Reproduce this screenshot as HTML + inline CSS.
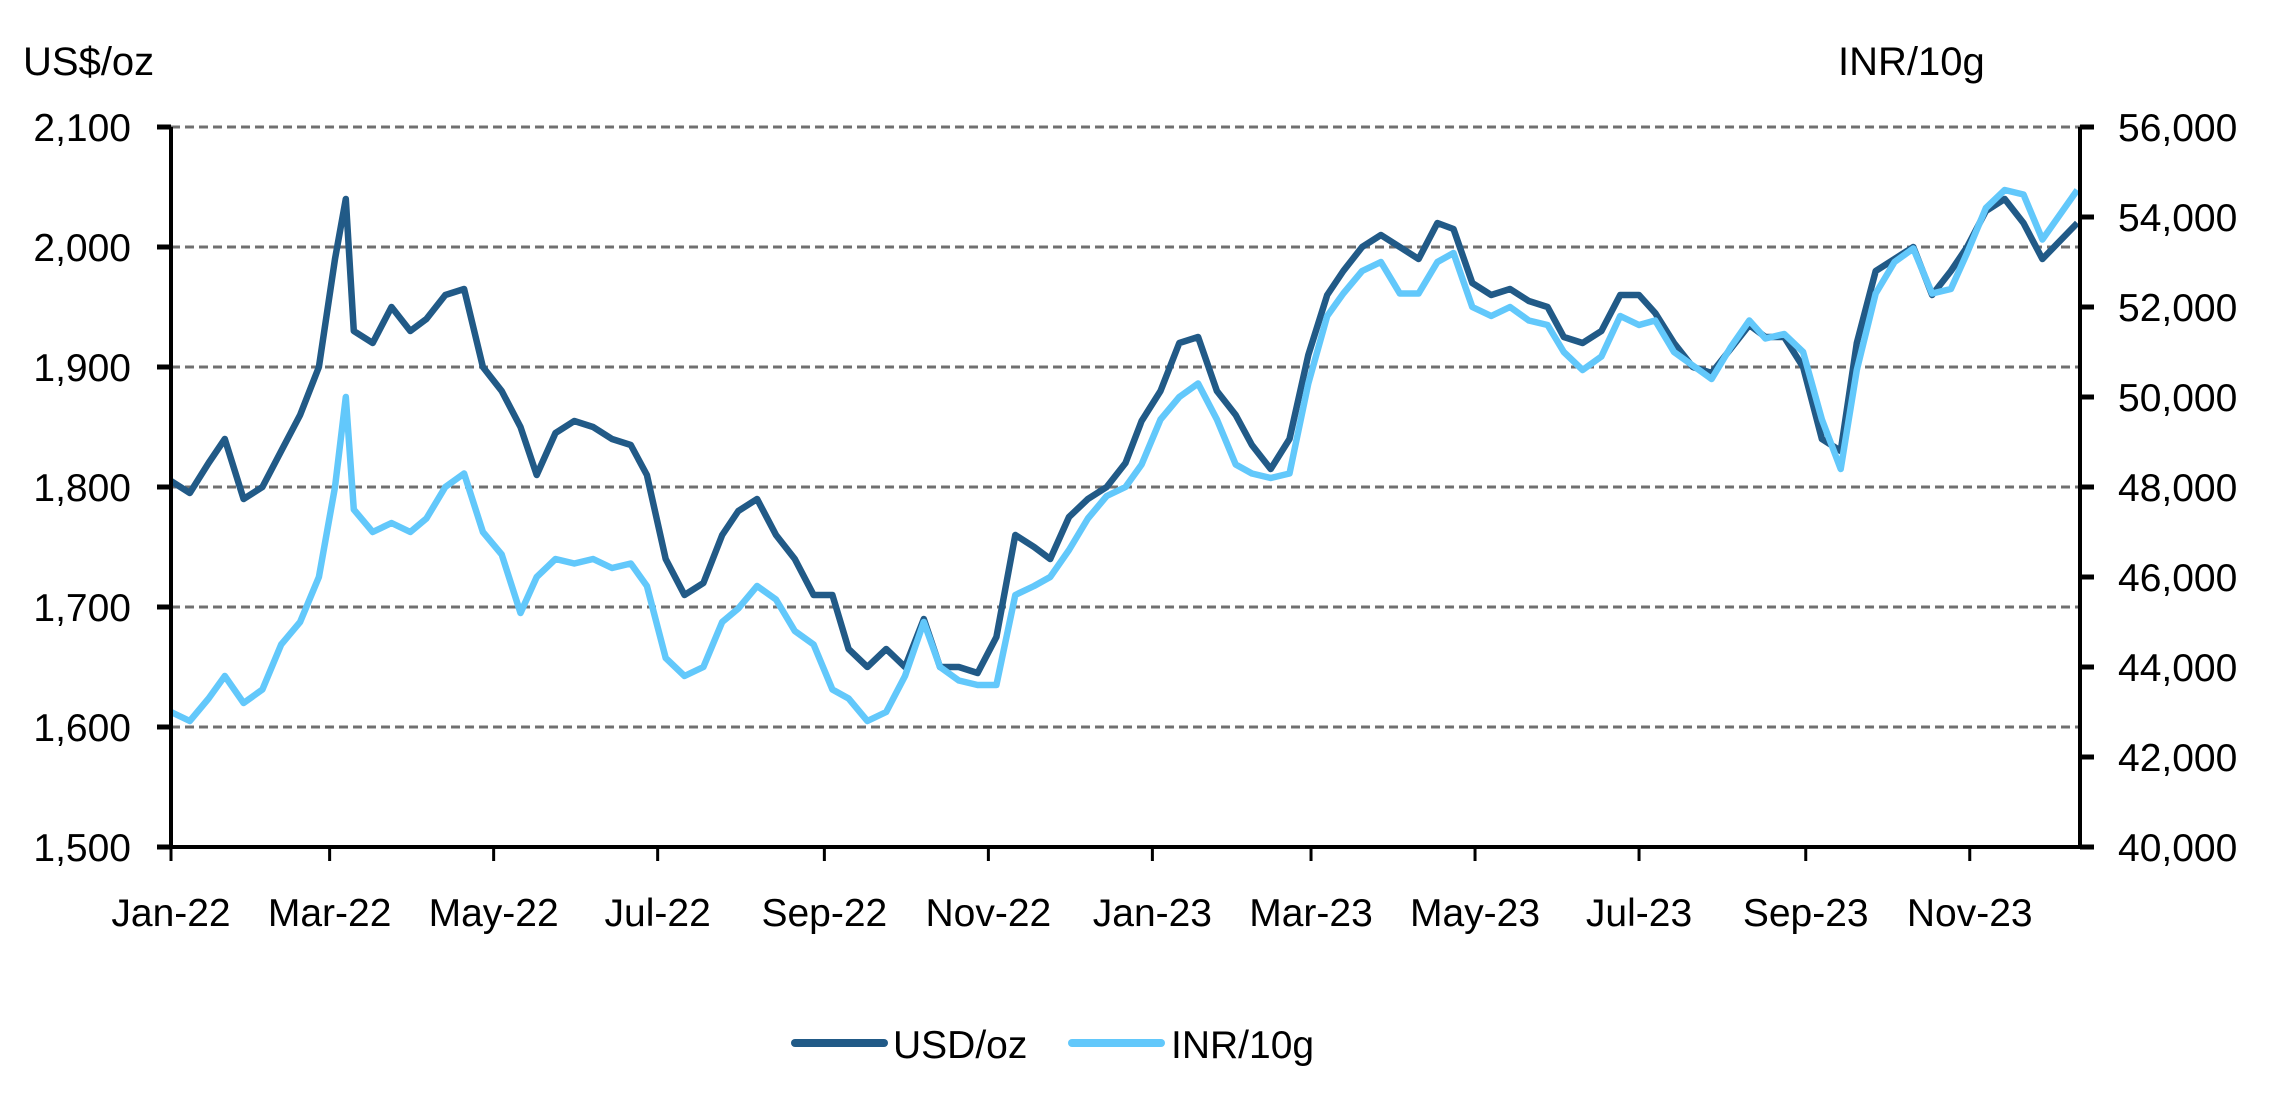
<!DOCTYPE html>
<html><head><meta charset="utf-8">
<style>
html,body{margin:0;padding:0;background:#fff;}
svg text{font-family:"Liberation Sans",sans-serif;fill:#000;}
</style></head>
<body>
<svg width="2287" height="1100" viewBox="0 0 2287 1100">
<g id="grid"></g>
<g id="series"></g>
<g id="axes"></g>
<text x="23" y="75" font-size="40">US$/oz</text>
<text x="1838" y="75" font-size="40">INR/10g</text>
<g>
<line x1="795" y1="1043" x2="884" y2="1043" stroke="#215a87" stroke-width="8" stroke-linecap="round"/>
<text x="893" y="1058" font-size="39">USD/oz</text>
<line x1="1072" y1="1043" x2="1161" y2="1043" stroke="#62c8fb" stroke-width="8" stroke-linecap="round"/>
<text x="1171" y="1058" font-size="39">INR/10g</text>
</g>
</svg>
<script>
const usdVals=[1805,1795,1820,1840,1790,1800,1830,1860,1900,1990,2040,1930,1920,1950,1930,1940,1960,1965,1900,1880,1850,1810,1845,1855,1850,1840,1835,1810,1740,1710,1720,1760,1780,1790,1760,1740,1710,1710,1665,1650,1665,1650,1690,1650,1650,1645,1675,1760,1750,1740,1775,1790,1800,1820,1855,1880,1920,1925,1880,1860,1835,1815,1840,1910,1960,1980,2000,2010,2000,1990,2020,2015,1970,1960,1965,1955,1950,1925,1920,1930,1960,1960,1945,1920,1900,1895,1915,1935,1925,1925,1900,1840,1830,1920,1980,1990,2000,1960,1980,2000,2030,2040,2020,1990,2020];
const inrVals=[43000,42800,43300,43800,43200,43500,44500,45000,46000,48000,50000,47500,47000,47200,47000,47300,48000,48300,47000,46500,45200,46000,46400,46300,46400,46200,46300,45800,44200,43800,44000,45000,45300,45800,45500,44800,44500,43500,43300,42800,43000,43800,45000,44000,43700,43600,43600,45600,45800,46000,46600,47300,47800,48000,48500,49500,50000,50300,49500,48500,48300,48200,48300,50300,51800,52300,52800,53000,52300,52300,53000,53200,52000,51800,52000,51700,51600,51000,50600,50900,51800,51600,51700,51000,50700,50400,51100,51700,51300,51400,51000,49500,48400,50600,52300,53000,53300,52300,52400,53200,54200,54600,54500,53500,54600];
const dayIdx=[0,7,14,20,27,34,41,48,55,61,65,68,75,82,89,95,102,109,116,123,130,136,143,150,157,164,171,177,184,191,198,205,211,218,225,232,239,246,252,259,266,273,280,286,293,300,307,314,321,327,334,341,348,355,361,368,375,382,389,396,402,409,416,423,430,436,443,450,457,464,471,477,484,491,498,505,512,518,525,532,539,546,552,559,566,573,580,587,593,600,607,614,621,627,634,641,648,655,662,668,675,682,689,696,709];
const usdTicks=[1500,1600,1700,1800,1900,2000,2100];
const inrTicks=[40000,42000,44000,46000,48000,50000,52000,54000,56000];
const monthLabels=["Jan-22","Mar-22","May-22","Jul-22","Sep-22","Nov-22","Jan-23","Mar-23","May-23","Jul-23","Sep-23","Nov-23"];
const monthDays=[0,59,120,181,243,304,365,424,485,546,608,669];

const X0=171,X1=2080,Y0=847,Y1=127,DAYS=710;
const xs=d=>X0+(X1-X0)*d/DAYS;
const yL=v=>Y0-(v-1500)/600*(Y0-Y1);
const yR=v=>Y0-(v-40000)/16000*(Y0-Y1);
const NS="http://www.w3.org/2000/svg";
function mk(tag,attrs,parent,txt){const e=document.createElementNS(NS,tag);for(const k in attrs)e.setAttribute(k,attrs[k]);if(txt!==undefined)e.textContent=txt;parent.appendChild(e);return e;}
const grid=document.getElementById('grid'),axes=document.getElementById('axes'),ser=document.getElementById('series');
usdTicks.forEach(v=>{
  const y=yL(v);
  if(v>1500){const g=mk('line',{x1:X0,x2:X1,y1:y,y2:y,stroke:'#707070','stroke-width':3,'stroke-dasharray':'9,5'},grid);
  
  }
  const t=mk('line',{x1:X0-14,x2:X0,y1:y,y2:y,stroke:'#000','stroke-width':5},axes);
  
  
  const l=mk('text',{x:X0-40,y:y+14,'font-size':39,'text-anchor':'end'},axes,v.toLocaleString('en-US'));
  
  
});
inrTicks.forEach(v=>{
  const y=yR(v);
  const t=mk('line',{x1:X1,x2:X1+14,y1:y,y2:y,stroke:'#000','stroke-width':5},axes);
  
  
  const l=mk('text',{x:X1+38,y:y+14,'font-size':39},axes,v.toLocaleString('en-US'));
  
  
});
monthLabels.forEach((m,i)=>{
  const x=xs(monthDays[i]);
  const t=mk('line',{x1:x,x2:x,y1:Y0,y2:Y0+14,stroke:'#000','stroke-width':3},axes);
  
  
  const l=mk('text',{x:x,y:926,'font-size':39,'text-anchor':'middle'},axes,m);
  
  
});
const la=mk('line',{x1:X0,x2:X0,y1:Y1,y2:Y0,stroke:'#000','stroke-width':4},axes);


const ra=mk('line',{x1:X1,x2:X1,y1:Y1,y2:Y0,stroke:'#000','stroke-width':4},axes);


const xa=mk('line',{x1:X0,x2:X1,y1:Y0,y2:Y0,stroke:'#000','stroke-width':4},axes);


const pU=usdVals.map((v,i)=>xs(dayIdx[i]).toFixed(1)+','+yL(v).toFixed(1)).join(' ');
const pI=inrVals.map((v,i)=>xs(dayIdx[i]).toFixed(1)+','+yR(v).toFixed(1)).join(' ');
const lu=mk('polyline',{points:pU,fill:'none',stroke:'#215a87','stroke-width':6.5,'stroke-linejoin':'round'},ser);


const li=mk('polyline',{points:pI,fill:'none',stroke:'#62c8fb','stroke-width':6.5,'stroke-linejoin':'round'},ser);


</script>
</body></html>
